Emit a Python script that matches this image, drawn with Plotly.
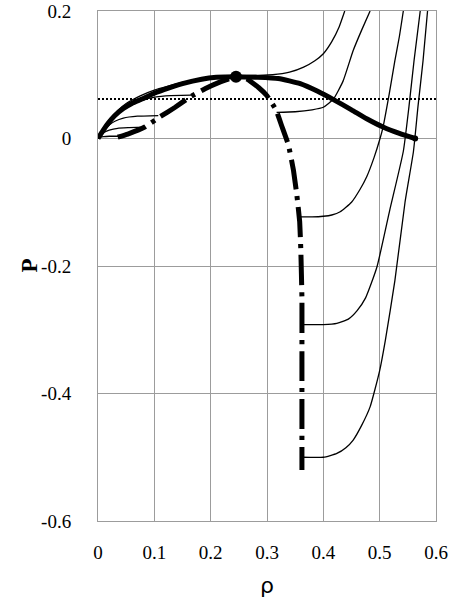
import plotly.graph_objects as go

# binodal (thick solid)
binodal_rho = [0, 0.01, 0.02, 0.03, 0.045, 0.06, 0.078, 0.1, 0.125, 0.15, 0.184, 0.21, 0.245,
               0.28, 0.32, 0.359, 0.39, 0.418, 0.45, 0.477, 0.506, 0.535, 0.563]
binodal_p = [0, 0.014, 0.026, 0.036, 0.047, 0.055, 0.062, 0.071, 0.079, 0.086, 0.093, 0.096, 0.097,
             0.096, 0.094, 0.086, 0.074, 0.061, 0.045, 0.031, 0.018, 0.008, 0.0]

# spinodal (thick dash-dot)
spin_rho = [0.035, 0.053, 0.083, 0.11, 0.137, 0.163, 0.19, 0.215, 0.234, 0.245, 0.265, 0.285,
            0.3, 0.316, 0.326, 0.338, 0.347, 0.353, 0.358, 0.36, 0.362, 0.362, 0.362, 0.362]
spin_p = [0.002, 0.007, 0.018, 0.034, 0.049, 0.065, 0.078, 0.088, 0.094, 0.097, 0.093, 0.08,
          0.067, 0.045, 0.02, -0.01, -0.05, -0.089, -0.13, -0.174, -0.25, -0.35, -0.45, -0.52]

# isotherms (thin) : gas branches
gas = {
    "T1": ([0, 0.01, 0.02, 0.035, 0.05, 0.075, 0.1, 0.15, 0.2, 0.245, 0.28, 0.31, 0.34, 0.365,
            0.385, 0.4, 0.415, 0.428, 0.438],
           [0, 0.016, 0.029, 0.044, 0.055, 0.067, 0.076, 0.088, 0.095, 0.098, 0.099, 0.100, 0.104,
            0.112, 0.122, 0.133, 0.152, 0.175, 0.2]),
    "T2": ([0, 0.01, 0.02, 0.035, 0.05, 0.07, 0.09, 0.12, 0.166],
           [0, 0.014, 0.026, 0.039, 0.048, 0.057, 0.063, 0.067, 0.068]),
    "T3": ([0, 0.01, 0.02, 0.03, 0.045, 0.07, 0.107],
           [0, 0.012, 0.021, 0.027, 0.032, 0.035, 0.036]),
    "T4": ([0, 0.01, 0.02, 0.035, 0.055, 0.083],
           [0, 0.009, 0.013, 0.016, 0.017, 0.018]),
    "T5": ([0, 0.004, 0.01, 0.02, 0.03, 0.04],
           [0, 0.002, 0.003, 0.0035, 0.0035, 0.0035]),
}

# isotherms : liquid branches
liq = {
    "T2": ([0.317, 0.35, 0.38, 0.40, 0.418, 0.435, 0.453, 0.468, 0.483],
           [0.041, 0.042, 0.045, 0.049, 0.062, 0.09, 0.138, 0.17, 0.2]),
    "T3": ([0.36, 0.38, 0.40, 0.415, 0.43, 0.45, 0.465, 0.477, 0.49, 0.5, 0.506, 0.517, 0.527, 0.535, 0.542],
           [-0.123, -0.123, -0.122, -0.12, -0.115, -0.1, -0.08, -0.06, -0.03, -0.002, 0.018, 0.07, 0.122, 0.16, 0.2]),
    "T4": ([0.362, 0.4, 0.424, 0.445, 0.46, 0.475, 0.495, 0.518, 0.542, 0.552, 0.561, 0.572],
           [-0.292, -0.292, -0.29, -0.283, -0.27, -0.25, -0.202, -0.112, -0.02, 0.05, 0.122, 0.2]),
    "T5": ([0.362, 0.4, 0.424, 0.44, 0.453, 0.468, 0.483, 0.5, 0.51, 0.527, 0.545, 0.56, 0.568, 0.577, 0.585],
           [-0.5, -0.5, -0.494, -0.485, -0.473, -0.45, -0.421, -0.364, -0.317, -0.223, -0.1, -0.02, 0.05, 0.122, 0.2]),
}

ref_level = 0.062
crit_rho, crit_p = [0.245], [0.097]
end_rho, end_p = [0.563], [0.0]

fig = go.Figure()

# 参考压力 (dotted)
fig.add_trace(go.Scatter(x=[0, 0.6], y=[ref_level, ref_level], mode='lines',
                         line=dict(color='black', width=2, dash='2px,2px')))

for name, (xs, ys) in gas.items():
    fig.add_trace(go.Scatter(x=xs, y=ys, mode='lines',
                             line=dict(color='black', width=1.3, shape='spline', smoothing=0.4)))
for name, (xs, ys) in liq.items():
    fig.add_trace(go.Scatter(x=xs, y=ys, mode='lines',
                             line=dict(color='black', width=1.3, shape='spline', smoothing=0.5)))

fig.add_trace(go.Scatter(x=binodal_rho, y=binodal_p, mode='lines',
                         line=dict(color='black', width=5, shape='spline', smoothing=0.5)))
fig.add_trace(go.Scatter(x=spin_rho, y=spin_p, mode='lines',
                         line=dict(color='black', width=5, shape='spline', smoothing=0.3,
                                   dash='30px,7px,4px,7px')))
fig.add_trace(go.Scatter(x=crit_rho, y=crit_p, mode='markers',
                         marker=dict(color='black', size=12)))
fig.add_trace(go.Scatter(x=end_rho, y=end_p, mode='markers',
                         marker=dict(color='black', size=6)))

axis_font = dict(family='Liberation Serif', size=19, color='black')
fig.update_layout(
    width=454, height=602,
    margin=dict(l=98, r=18, t=11, b=81, autoexpand=False),
    plot_bgcolor='white', paper_bgcolor='white',
    showlegend=False,
    xaxis=dict(range=[0, 0.6], tickvals=[0, 0.1, 0.2, 0.3, 0.4, 0.5, 0.6],
               ticktext=['0', '0.1', '0.2', '0.3', '0.4', '0.5', '0.6'],
               showgrid=True, gridcolor='#9c9c9c', gridwidth=1, automargin=False,
               showline=True, linecolor='#9c9c9c', mirror=True, zeroline=False,
               tickfont=axis_font, ticks='', ticklabelstandoff=14),
    yaxis=dict(range=[-0.6, 0.2], tickvals=[-0.6, -0.4, -0.2, 0, 0.2],
               ticktext=['-0.6', '-0.4', '-0.2', '0', '0.2'],
               showgrid=True, gridcolor='#9c9c9c', gridwidth=1, automargin=False,
               showline=True, linecolor='#9c9c9c', mirror=True, zeroline=False,
               tickfont=axis_font, ticks='', ticklabelstandoff=22),
    annotations=[
        dict(text='<b>P</b>', xref='paper', yref='paper', x=0, y=0.5, xshift=-84,
             showarrow=False, textangle=-90,
             font=dict(family='Liberation Serif', size=23, color='black')),
        dict(text='ρ', xref='paper', yref='paper', x=0.5, y=0, yanchor='top', yshift=-50,
             showarrow=False,
             font=dict(family='DejaVu Sans', size=22, color='black')),
    ],
)

fig.write_html("out.html", config={'displayModeBar': False},
               post_script="document.body.style.margin='0';")
